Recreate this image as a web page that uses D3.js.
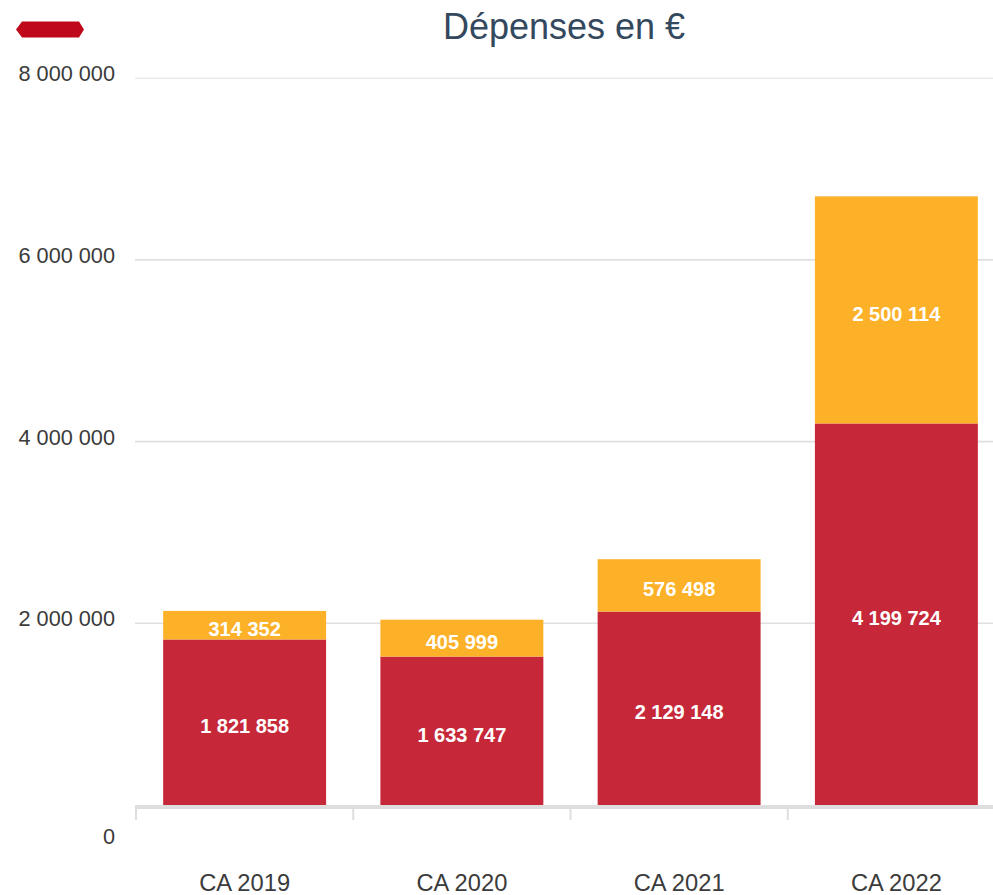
<!DOCTYPE html>
<html><head><meta charset="utf-8">
<script src="https://cdn.jsdelivr.net/npm/d3@7"></script>
<style>
html,body{margin:0;padding:0;background:#fff;overflow:hidden}
svg{display:block;font-family:"Liberation Sans",Arial,sans-serif}
</style></head><body>
<script>
const categories = ["CA 2019","CA 2020","CA 2021","CA 2022"];
const seriesRed = [1821858, 1633747, 2129148, 4199724];
const seriesOrange = [314352, 405999, 576498, 2500114];
const yTicks = [0, 2000000, 4000000, 6000000, 8000000];
const title = "Dépenses en €";

const W = 993, H = 895;
const svg = d3.select("body").append("svg").attr("width", W).attr("height", H);

const x = d3.scaleBand().domain(categories).range([136, 1005]).paddingInner(0.25).paddingOuter(0.125);
const y = d3.scaleLinear().domain([0, 8000000]).range([805, 78.2]);
const fmt = v => d3.format(",")(v).replace(/,/g, " ");

// title
svg.append("text").attr("x", 564).attr("y", 38.5).attr("text-anchor", "middle")
  .attr("font-size", 36).attr("fill", "#34495e").text(title);

// decorative red marker
svg.append("path").attr("d", "M16,29.5 L22,21.5 L79,21.5 L84,29.5 L79,37.5 L22,37.5 Z").attr("fill", "#c0081c");

// gridlines
svg.append("g").selectAll("line").data(yTicks.filter(d => d > 0)).join("line")
  .attr("x1", 135).attr("x2", W).attr("y1", d => y(d)).attr("y2", d => y(d))
  .attr("stroke", "#e0e0e0").attr("stroke-width", d => d === 8000000 ? 1 : 1.6);

// y labels
svg.append("g").selectAll("text").data(yTicks).join("text")
  .attr("x", 115).attr("y", d => d === 0 ? y(d) + 39 : y(d) + 3)
  .attr("text-anchor", "end").attr("font-size", 21.7).attr("fill", "#3b3b3b")
  .text(d => fmt(d));

// stacked data
const data = categories.map((c, i) => ({cat: c, red: seriesRed[i], orange: seriesOrange[i]}));
const stack = d3.stack().keys(["red", "orange"])(data);
const colors = {red: "#c62839", orange: "#fdb128"};

const layers = svg.append("g").selectAll("g").data(stack).join("g").attr("fill", d => colors[d.key]);
layers.selectAll("rect").data(d => d).join("rect")
  .attr("x", d => x(d.data.cat)).attr("width", x.bandwidth())
  .attr("y", d => y(d[1])).attr("height", d => y(d[0]) - y(d[1]));

// value labels
const lbl = svg.append("g");
stack.forEach(layer => {
  lbl.selectAll(null).data(layer).join("text")
    .attr("x", d => x(d.data.cat) + x.bandwidth() / 2)
    .attr("y", d => (y(d[0]) + y(d[1])) / 2 + 11)
    .attr("text-anchor", "middle").attr("font-size", 20).attr("font-weight", "bold")
    .attr("fill", "#fff").text(d => fmt(d[1] - d[0]));
});

// x axis
svg.append("rect").attr("x", 135).attr("y", 805).attr("width", W - 135).attr("height", 4).attr("fill", "#dedede");
const bounds = categories.map(c => x(c) - x.step() * x.paddingInner() / 2);
svg.append("g").selectAll("line").data(bounds).join("line")
  .attr("x1", d => d).attr("x2", d => d).attr("y1", 809).attr("y2", 820)
  .attr("stroke", "#dedede").attr("stroke-width", 2);
svg.append("g").selectAll("text").data(categories).join("text")
  .attr("x", d => x(d) + x.bandwidth() / 2).attr("y", 891)
  .attr("text-anchor", "middle").attr("font-size", 23.7).attr("fill", "#3b3b3b").text(d => d);
</script>
</body></html>
